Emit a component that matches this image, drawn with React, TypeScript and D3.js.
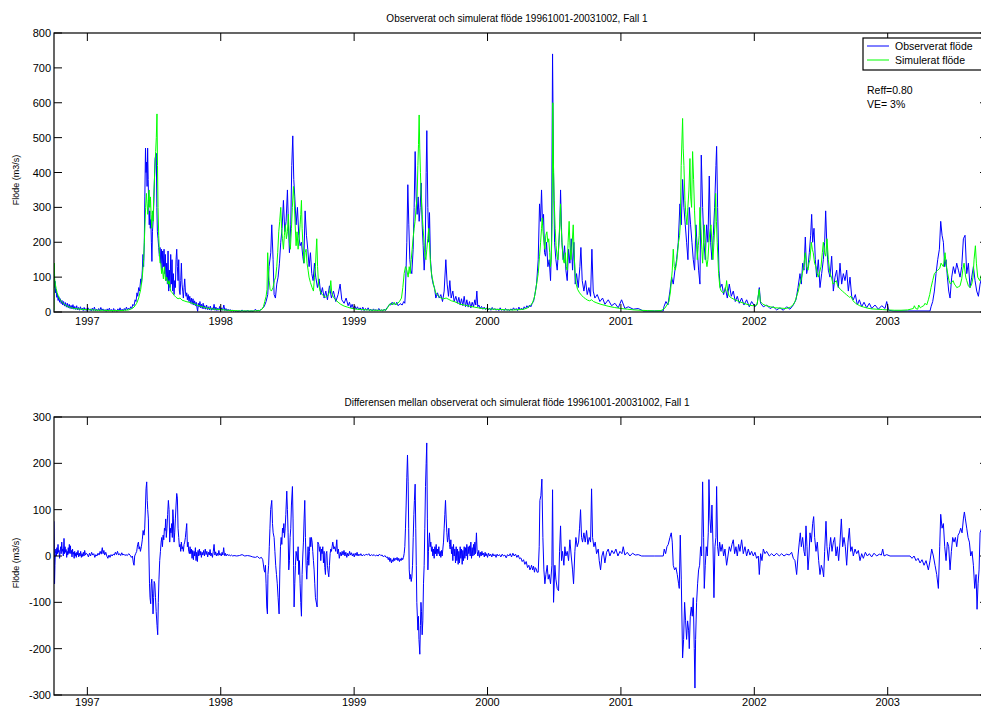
import React from 'react';
import * as d3 from 'd3';

// Time axis is in decimal years (hydrological period 1996-10-01 .. 2003-10-02)
const startYear = 1996.75;
const endYear = 2003.752;
const yearTicks = [1997, 1998, 1999, 2000, 2001, 2002, 2003];
const flowTicks = [0, 100, 200, 300, 400, 500, 600, 700, 800];
const diffTicks = [-300, -200, -100, 0, 100, 200, 300];

const topTitle = 'Observerat och simulerat flöde 19961001-20031002, Fall 1';
const bottomTitle = 'Differensen mellan observerat och simulerat flöde 19961001-20031002, Fall 1';
const yLabel = 'Flöde (m3/s)';
const legendItems = [
  { label: 'Observerat flöde', color: '#0000ff' },
  { label: 'Simulerat flöde', color: '#00ff00' },
];
const statsLines = ['Reff=0.80', 'VE= 3%'];

// Observed discharge, m3/s
const observed: [number, number][] = [
  [1996.750, 95], [1996.752, 122], [1996.755, 70], [1996.758, 88], [1996.762, 55], [1996.766, 64], [1996.771, 42], [1996.776, 52],
  [1996.781, 33], [1996.786, 44], [1996.792, 28], [1996.798, 38], [1996.804, 24], [1996.810, 33], [1996.816, 20], [1996.822, 30],
  [1996.829, 17], [1996.836, 27], [1996.843, 14], [1996.850, 25], [1996.857, 12], [1996.864, 22], [1996.871, 10], [1996.878, 19],
  [1996.885, 9], [1996.892, 21], [1996.899, 8], [1996.906, 16], [1996.913, 7], [1996.920, 18], [1996.927, 6], [1996.934, 13],
  [1996.941, 5], [1996.948, 15], [1996.955, 6], [1996.962, 11], [1996.969, 4], [1996.976, 13], [1996.983, 5], [1996.990, 10],
  [1996.997, 4], [1997.005, 12], [1997.013, 5], [1997.021, 9], [1997.029, 3], [1997.037, 11], [1997.045, 4], [1997.053, 14],
  [1997.061, 3], [1997.069, 8], [1997.077, 4], [1997.085, 10], [1997.093, 3], [1997.101, 13], [1997.109, 5], [1997.117, 9],
  [1997.125, 3], [1997.133, 7], [1997.141, 2], [1997.149, 9], [1997.157, 3], [1997.165, 11], [1997.173, 4], [1997.181, 7],
  [1997.189, 2], [1997.197, 10], [1997.205, 3], [1997.213, 6], [1997.221, 2], [1997.229, 9], [1997.237, 3], [1997.245, 12],
  [1997.253, 4], [1997.261, 8], [1997.269, 3], [1997.277, 10], [1997.285, 5], [1997.293, 14], [1997.301, 6], [1997.309, 11],
  [1997.317, 7], [1997.325, 15], [1997.333, 10], [1997.341, 22], [1997.350, 18], [1997.358, 35], [1997.365, 30], [1997.372, 55],
  [1997.378, 45], [1997.385, 70], [1997.392, 60], [1997.400, 95], [1997.406, 80], [1997.412, 120], [1997.417, 165], [1997.422, 130],
  [1997.427, 200], [1997.431, 330], [1997.436, 470], [1997.440, 400], [1997.444, 430], [1997.448, 360], [1997.452, 470], [1997.456, 380],
  [1997.460, 300], [1997.464, 250], [1997.468, 290], [1997.472, 240], [1997.476, 265], [1997.480, 200], [1997.484, 145], [1997.488, 230],
  [1997.493, 260], [1997.498, 310], [1997.503, 380], [1997.508, 440], [1997.517, 455], [1997.521, 300], [1997.525, 230], [1997.530, 210],
  [1997.535, 185], [1997.540, 160], [1997.545, 185], [1997.550, 140], [1997.555, 180], [1997.560, 120], [1997.565, 175], [1997.570, 130],
  [1997.575, 180], [1997.580, 110], [1997.585, 165], [1997.590, 90], [1997.595, 140], [1997.600, 80], [1997.605, 175], [1997.610, 60],
  [1997.615, 120], [1997.620, 70], [1997.625, 165], [1997.630, 80], [1997.635, 150], [1997.640, 60], [1997.645, 110], [1997.650, 50],
  [1997.655, 90], [1997.660, 70], [1997.665, 150], [1997.670, 180], [1997.675, 130], [1997.680, 90], [1997.685, 150], [1997.690, 60],
  [1997.695, 50], [1997.700, 90], [1997.705, 140], [1997.710, 80], [1997.715, 60], [1997.720, 40], [1997.725, 70], [1997.730, 95],
  [1997.735, 60], [1997.740, 45], [1997.745, 55], [1997.750, 35], [1997.756, 50], [1997.762, 30], [1997.768, 45], [1997.774, 25],
  [1997.780, 40], [1997.786, 22], [1997.792, 38], [1997.798, 20], [1997.804, 32], [1997.810, 18], [1997.816, 28], [1997.822, 12],
  [1997.827, 2], [1997.832, 25], [1997.838, 14], [1997.844, 30], [1997.850, 12], [1997.856, 22], [1997.862, 10], [1997.868, 25],
  [1997.874, 9], [1997.880, 18], [1997.887, 8], [1997.894, 20], [1997.901, 7], [1997.908, 15], [1997.915, 6], [1997.922, 17],
  [1997.929, 5], [1997.936, 12], [1997.943, 6], [1997.950, 22], [1997.957, 5], [1997.964, 14], [1997.971, 4], [1997.978, 11],
  [1997.985, 5], [1997.992, 16], [1997.999, 4], [1998.007, 12], [1998.015, 5], [1998.023, 20], [1998.031, 4], [1998.039, 10],
  [1998.047, 3], [1998.055, 8], [1998.063, 3], [1998.071, 7], [1998.079, 2], [1998.087, 6], [1998.095, 2], [1998.103, 4],
  [1998.111, 2], [1998.119, 3], [1998.127, 2], [1998.140, 3], [1998.150, 2], [1998.160, 6], [1998.170, 2], [1998.180, 3],
  [1998.190, 2], [1998.200, 4], [1998.215, 2], [1998.230, 3], [1998.245, 2], [1998.260, 8], [1998.270, 3], [1998.280, 5],
  [1998.290, 3], [1998.300, 6], [1998.310, 10], [1998.325, 15], [1998.340, 30], [1998.3525, 50], [1998.3625, 130], [1998.375, 170],
  [1998.3825, 250], [1998.3925, 150], [1998.400, 50], [1998.410, 40], [1998.420, 80], [1998.430, 100], [1998.440, 140], [1998.450, 200],
  [1998.460, 240], [1998.470, 320], [1998.480, 230], [1998.490, 260], [1998.500, 350], [1998.5075, 250], [1998.515, 170], [1998.525, 250],
  [1998.5325, 420], [1998.540, 505], [1998.5475, 380], [1998.555, 330], [1998.565, 250], [1998.575, 300], [1998.585, 220], [1998.595, 190],
  [1998.605, 200], [1998.615, 160], [1998.6225, 140], [1998.6325, 290], [1998.6425, 220], [1998.6525, 180], [1998.6625, 130], [1998.6725, 170],
  [1998.6825, 110], [1998.6925, 90], [1998.7025, 140], [1998.7125, 100], [1998.725, 70], [1998.7375, 95], [1998.750, 50], [1998.7625, 70],
  [1998.775, 40], [1998.7875, 60], [1998.800, 35], [1998.815, 75], [1998.830, 40], [1998.845, 60], [1998.8625, 30], [1998.880, 50],
  [1998.895, 80], [1998.9075, 35], [1998.925, 25], [1998.940, 40], [1998.955, 18], [1998.965, 28], [1998.975, 12], [1998.985, 22],
  [1998.995, 9], [1999.005, 18], [1999.015, 8], [1999.025, 15], [1999.035, 6], [1999.045, 12], [1999.055, 5], [1999.065, 14],
  [1999.075, 4], [1999.085, 10], [1999.095, 5], [1999.105, 12], [1999.115, 4], [1999.125, 8], [1999.135, 3], [1999.145, 9],
  [1999.155, 4], [1999.165, 7], [1999.175, 3], [1999.185, 10], [1999.195, 4], [1999.205, 6], [1999.215, 3], [1999.225, 8],
  [1999.235, 4], [1999.245, 12], [1999.255, 15], [1999.265, 22], [1999.275, 20], [1999.285, 28], [1999.295, 22], [1999.300, 25],
  [1999.310, 20], [1999.320, 28], [1999.330, 18], [1999.345, 24], [1999.360, 20], [1999.372, 30], [1999.380, 25], [1999.385, 60],
  [1999.395, 200], [1999.4025, 365], [1999.410, 250], [1999.4175, 150], [1999.425, 120], [1999.4325, 110], [1999.4425, 180], [1999.450, 300],
  [1999.4575, 460], [1999.465, 330], [1999.4725, 280], [1999.480, 330], [1999.4875, 260], [1999.495, 300], [1999.5025, 370], [1999.510, 250],
  [1999.5175, 190], [1999.525, 120], [1999.5325, 170], [1999.540, 400], [1999.545, 520], [1999.5525, 300], [1999.560, 200], [1999.565, 285],
  [1999.5725, 150], [1999.5825, 100], [1999.5925, 80], [1999.6025, 70], [1999.6125, 40], [1999.625, 55], [1999.6375, 40], [1999.650, 50],
  [1999.6625, 30], [1999.675, 60], [1999.6875, 150], [1999.6975, 80], [1999.7075, 45], [1999.7175, 90], [1999.7275, 40], [1999.740, 60],
  [1999.750, 30], [1999.7625, 45], [1999.775, 25], [1999.785, 42], [1999.795, 20], [1999.805, 38], [1999.815, 18], [1999.825, 45],
  [1999.835, 15], [1999.845, 35], [1999.855, 14], [1999.865, 30], [1999.875, 12], [1999.885, 28], [1999.895, 15], [1999.905, 35],
  [1999.912, 20], [1999.920, 60], [1999.927, 15], [1999.935, 20], [1999.945, 10], [1999.955, 16], [1999.965, 8], [1999.975, 14],
  [1999.985, 7], [1999.995, 12], [2000.005, 6], [2000.015, 11], [2000.025, 5], [2000.035, 13], [2000.045, 6], [2000.055, 10],
  [2000.065, 5], [2000.075, 9], [2000.085, 4], [2000.095, 12], [2000.105, 5], [2000.115, 8], [2000.125, 4], [2000.135, 10],
  [2000.145, 5], [2000.155, 7], [2000.165, 4], [2000.175, 9], [2000.185, 5], [2000.195, 12], [2000.205, 6], [2000.215, 10],
  [2000.225, 4], [2000.235, 14], [2000.245, 7], [2000.255, 11], [2000.265, 6], [2000.275, 15], [2000.285, 9], [2000.295, 18],
  [2000.305, 12], [2000.315, 20], [2000.325, 15], [2000.335, 25], [2000.345, 30], [2000.355, 50], [2000.3675, 80], [2000.380, 150],
  [2000.390, 310], [2000.3975, 260], [2000.405, 350], [2000.4125, 250], [2000.420, 280], [2000.4275, 170], [2000.435, 160], [2000.4425, 200],
  [2000.4525, 130], [2000.4625, 150], [2000.4725, 90], [2000.480, 200], [2000.4875, 740], [2000.495, 400], [2000.5025, 200], [2000.5125, 150],
  [2000.5225, 120], [2000.5325, 180], [2000.5425, 250], [2000.5475, 350], [2000.5575, 200], [2000.5675, 150], [2000.5775, 190], [2000.5875, 120],
  [2000.5975, 90], [2000.6075, 180], [2000.6175, 140], [2000.6275, 210], [2000.6375, 120], [2000.6475, 200], [2000.6575, 80], [2000.6675, 110],
  [2000.680, 70], [2000.6925, 130], [2000.700, 185], [2000.710, 90], [2000.7225, 60], [2000.735, 90], [2000.7475, 50], [2000.760, 70],
  [2000.7725, 45], [2000.7825, 180], [2000.7925, 60], [2000.805, 40], [2000.8225, 50], [2000.8425, 30], [2000.8625, 40], [2000.880, 22],
  [2000.905, 35], [2000.930, 18], [2000.955, 25], [2000.980, 12], [2001.005, 35], [2001.030, 10], [2001.055, 15], [2001.0925, 8],
  [2001.130, 10], [2001.1675, 3], [2001.250, 3], [2001.3175, 3], [2001.3225, 15], [2001.3375, 30], [2001.3525, 20], [2001.3675, 60],
  [2001.380, 100], [2001.3925, 80], [2001.405, 120], [2001.4175, 150], [2001.430, 200], [2001.4425, 310], [2001.4525, 250], [2001.4625, 380],
  [2001.4725, 300], [2001.4825, 250], [2001.4925, 200], [2001.5025, 150], [2001.5125, 300], [2001.5225, 250], [2001.5325, 200], [2001.5425, 150],
  [2001.5525, 120], [2001.5625, 250], [2001.5725, 180], [2001.5825, 120], [2001.5925, 80], [2001.6025, 450], [2001.6125, 300], [2001.6225, 200],
  [2001.6325, 150], [2001.6425, 250], [2001.6525, 200], [2001.6625, 390], [2001.6725, 200], [2001.6825, 150], [2001.6925, 220], [2001.7025, 300],
  [2001.7125, 420], [2001.7175, 475], [2001.725, 300], [2001.735, 120], [2001.745, 70], [2001.7575, 80], [2001.770, 50], [2001.7825, 70],
  [2001.7975, 40], [2001.8125, 80], [2001.8275, 45], [2001.8425, 60], [2001.8575, 30], [2001.8725, 45], [2001.8875, 25], [2001.905, 40],
  [2001.9225, 20], [2001.9425, 35], [2001.9625, 15], [2001.980, 30], [2002.005, 15], [2002.0225, 25], [2002.0375, 70], [2002.0475, 25],
  [2002.0675, 15], [2002.0925, 20], [2002.1175, 10], [2002.1425, 15], [2002.1675, 6], [2002.1925, 12], [2002.2175, 5], [2002.2425, 15],
  [2002.2675, 8], [2002.2925, 20], [2002.3125, 35], [2002.3275, 70], [2002.3425, 110], [2002.3525, 80], [2002.3625, 140], [2002.3725, 120],
  [2002.3825, 215], [2002.3925, 110], [2002.4025, 130], [2002.4125, 170], [2002.4225, 220], [2002.430, 280], [2002.4375, 200], [2002.4475, 240],
  [2002.4575, 150], [2002.4675, 100], [2002.480, 150], [2002.4925, 70], [2002.505, 110], [2002.5175, 150], [2002.5275, 200], [2002.535, 290],
  [2002.545, 180], [2002.555, 120], [2002.5675, 100], [2002.580, 160], [2002.5925, 60], [2002.605, 100], [2002.6175, 120], [2002.630, 70],
  [2002.6425, 140], [2002.655, 80], [2002.6675, 110], [2002.680, 90], [2002.6925, 120], [2002.705, 60], [2002.7175, 100], [2002.730, 45],
  [2002.7425, 35], [2002.7575, 50], [2002.7725, 20], [2002.7875, 35], [2002.805, 15], [2002.8225, 28], [2002.8425, 12], [2002.8625, 25],
  [2002.880, 10], [2002.905, 20], [2002.930, 8], [2002.955, 18], [2002.980, 10], [2002.9925, 30], [2003.0075, 5], [2003.0425, 3],
  [2003.150, 3], [2003.3175, 3], [2003.325, 15], [2003.3375, 30], [2003.350, 60], [2003.3625, 110], [2003.375, 150], [2003.3875, 180],
  [2003.3975, 260], [2003.4075, 220], [2003.4175, 200], [2003.4275, 130], [2003.4375, 150], [2003.4475, 100], [2003.4575, 60], [2003.4675, 40],
  [2003.480, 100], [2003.4925, 130], [2003.505, 110], [2003.5175, 140], [2003.530, 120], [2003.5425, 100], [2003.555, 130], [2003.5675, 210],
  [2003.580, 220], [2003.5925, 110], [2003.605, 140], [2003.6175, 70], [2003.630, 100], [2003.6425, 130], [2003.655, 90], [2003.6675, 60],
  [2003.680, 45], [2003.6925, 80], [2003.705, 100], [2003.720, 70], [2003.735, 90], [2003.750, 110],
];

// Simulated discharge, m3/s
const simulated: [number, number][] = [
  [1996.750, 5], [1996.752, 140], [1996.755, 95], [1996.760, 80], [1996.766, 68], [1996.773, 56], [1996.780, 48], [1996.788, 41],
  [1996.797, 35], [1996.807, 30], [1996.818, 25], [1996.830, 21], [1996.843, 18], [1996.857, 15], [1996.872, 13], [1996.888, 11],
  [1996.905, 10], [1996.925, 9], [1996.950, 8], [1996.975, 7], [1997.000, 7], [1997.040, 6], [1997.080, 5], [1997.120, 5],
  [1997.160, 4], [1997.200, 4], [1997.240, 4], [1997.280, 5], [1997.310, 6], [1997.330, 9], [1997.350, 14], [1997.370, 25],
  [1997.385, 40], [1997.400, 65], [1997.412, 100], [1997.422, 150], [1997.430, 230], [1997.437, 300], [1997.443, 340], [1997.448, 310],
  [1997.453, 280], [1997.458, 320], [1997.463, 350], [1997.468, 300], [1997.473, 330], [1997.478, 280], [1997.483, 240], [1997.488, 290],
  [1997.493, 260], [1997.498, 330], [1997.505, 400], [1997.512, 460], [1997.517, 500], [1997.522, 568], [1997.526, 420], [1997.530, 300],
  [1997.535, 220], [1997.540, 170], [1997.545, 140], [1997.550, 140], [1997.557, 110], [1997.563, 125], [1997.570, 95], [1997.578, 130],
  [1997.586, 90], [1997.595, 100], [1997.605, 80], [1997.613, 90], [1997.625, 60], [1997.637, 55], [1997.650, 48], [1997.665, 42],
  [1997.680, 38], [1997.695, 40], [1997.710, 34], [1997.725, 32], [1997.740, 30], [1997.760, 28], [1997.780, 26], [1997.800, 23],
  [1997.820, 20], [1997.845, 17], [1997.870, 14], [1997.900, 11], [1997.930, 9], [1997.960, 8], [1998.000, 7], [1998.050, 5],
  [1998.100, 4], [1998.150, 3], [1998.200, 3], [1998.250, 3], [1998.290, 4], [1998.310, 8], [1998.320, 15], [1998.330, 30],
  [1998.340, 45], [1998.347, 65], [1998.352, 170], [1998.357, 120], [1998.363, 90], [1998.370, 65], [1998.380, 60], [1998.392, 70],
  [1998.402, 90], [1998.412, 100], [1998.420, 130], [1998.427, 170], [1998.435, 230], [1998.442, 260], [1998.450, 300], [1998.456, 240],
  [1998.463, 210], [1998.470, 180], [1998.477, 220], [1998.485, 250], [1998.492, 210], [1998.500, 230], [1998.507, 280], [1998.515, 200],
  [1998.522, 180], [1998.530, 240], [1998.537, 300], [1998.545, 360], [1998.551, 320], [1998.558, 250], [1998.565, 190], [1998.572, 230],
  [1998.580, 180], [1998.587, 210], [1998.595, 250], [1998.600, 280], [1998.605, 320], [1998.610, 240], [1998.617, 190], [1998.625, 140],
  [1998.632, 170], [1998.640, 180], [1998.647, 140], [1998.655, 120], [1998.662, 100], [1998.672, 85], [1998.685, 70], [1998.695, 60],
  [1998.703, 100], [1998.710, 130], [1998.715, 175], [1998.720, 210], [1998.726, 130], [1998.733, 80], [1998.745, 60], [1998.760, 50],
  [1998.775, 45], [1998.790, 42], [1998.805, 48], [1998.818, 60], [1998.825, 90], [1998.832, 55], [1998.845, 42], [1998.860, 35],
  [1998.880, 28], [1998.900, 22], [1998.925, 17], [1998.950, 14], [1998.975, 11], [1999.000, 9], [1999.050, 7], [1999.100, 6],
  [1999.150, 5], [1999.200, 5], [1999.240, 6], [1999.255, 15], [1999.265, 22], [1999.275, 25], [1999.285, 20], [1999.300, 28],
  [1999.312, 20], [1999.325, 25], [1999.340, 30], [1999.355, 40], [1999.365, 70], [1999.375, 110], [1999.385, 130], [1999.395, 120],
  [1999.405, 100], [1999.413, 130], [1999.420, 110], [1999.428, 150], [1999.435, 180], [1999.442, 210], [1999.450, 240], [1999.457, 260],
  [1999.465, 300], [1999.472, 330], [1999.478, 420], [1999.4825, 480], [1999.4875, 565], [1999.492, 470], [1999.497, 400], [1999.503, 330],
  [1999.510, 280], [1999.517, 240], [1999.524, 200], [1999.531, 160], [1999.538, 150], [1999.545, 180], [1999.552, 210], [1999.559, 240],
  [1999.565, 200], [1999.572, 140], [1999.580, 110], [1999.590, 90], [1999.600, 70], [1999.612, 55], [1999.625, 48], [1999.640, 42],
  [1999.655, 40], [1999.670, 38], [1999.690, 40], [1999.710, 36], [1999.730, 32], [1999.750, 30], [1999.775, 26], [1999.800, 22],
  [1999.825, 20], [1999.850, 18], [1999.875, 16], [1999.900, 14], [1999.930, 12], [1999.960, 10], [2000.000, 9], [2000.050, 8],
  [2000.100, 7], [2000.150, 6], [2000.200, 6], [2000.250, 7], [2000.280, 9], [2000.300, 12], [2000.320, 18], [2000.335, 25],
  [2000.350, 40], [2000.360, 60], [2000.370, 85], [2000.380, 110], [2000.390, 160], [2000.398, 200], [2000.405, 240], [2000.410, 270],
  [2000.416, 230], [2000.423, 200], [2000.430, 180], [2000.437, 220], [2000.445, 230], [2000.452, 200], [2000.459, 210], [2000.466, 170],
  [2000.472, 130], [2000.478, 150], [2000.484, 250], [2000.4895, 600], [2000.494, 430], [2000.500, 320], [2000.507, 240], [2000.514, 190],
  [2000.521, 160], [2000.528, 150], [2000.535, 200], [2000.542, 260], [2000.5475, 310], [2000.553, 240], [2000.560, 190], [2000.567, 150],
  [2000.575, 140], [2000.583, 170], [2000.590, 130], [2000.597, 120], [2000.604, 200], [2000.612, 260], [2000.618, 190], [2000.625, 150],
  [2000.632, 180], [2000.6425, 250], [2000.650, 160], [2000.657, 110], [2000.665, 80], [2000.675, 65], [2000.690, 55], [2000.705, 48],
  [2000.720, 42], [2000.735, 38], [2000.750, 34], [2000.765, 32], [2000.780, 35], [2000.795, 30], [2000.820, 26], [2000.850, 22],
  [2000.880, 19], [2000.910, 16], [2000.950, 13], [2001.000, 10], [2001.050, 8], [2001.100, 6], [2001.150, 5], [2001.200, 4],
  [2001.250, 3], [2001.300, 4], [2001.3275, 10], [2001.345, 20], [2001.360, 30], [2001.372, 60], [2001.385, 120], [2001.3925, 180],
  [2001.400, 130], [2001.408, 120], [2001.417, 140], [2001.425, 170], [2001.432, 200], [2001.440, 220], [2001.445, 250], [2001.452, 420],
  [2001.4625, 555], [2001.467, 470], [2001.4725, 420], [2001.480, 320], [2001.487, 280], [2001.495, 250], [2001.502, 300], [2001.510, 350],
  [2001.5175, 440], [2001.523, 330], [2001.530, 300], [2001.5375, 460], [2001.545, 380], [2001.552, 290], [2001.560, 220], [2001.567, 200],
  [2001.5725, 150], [2001.580, 190], [2001.587, 220], [2001.5925, 300], [2001.600, 240], [2001.607, 180], [2001.6125, 140], [2001.620, 200],
  [2001.625, 250], [2001.632, 200], [2001.6375, 150], [2001.645, 130], [2001.652, 150], [2001.660, 200], [2001.667, 230], [2001.675, 250],
  [2001.682, 200], [2001.690, 150], [2001.6975, 200], [2001.705, 250], [2001.710, 340], [2001.716, 260], [2001.722, 200], [2001.7325, 110],
  [2001.742, 70], [2001.752, 60], [2001.765, 55], [2001.780, 60], [2001.790, 80], [2001.7925, 90], [2001.800, 60], [2001.812, 45],
  [2001.830, 40], [2001.850, 36], [2001.875, 32], [2001.900, 28], [2001.930, 24], [2001.960, 20], [2001.990, 18], [2002.020, 20],
  [2002.037, 65], [2002.045, 30], [2002.065, 22], [2002.090, 18], [2002.120, 15], [2002.160, 12], [2002.200, 11], [2002.240, 10],
  [2002.270, 14], [2002.290, 20], [2002.305, 30], [2002.3175, 45], [2002.330, 60], [2002.340, 80], [2002.350, 90], [2002.360, 110],
  [2002.370, 130], [2002.3825, 170], [2002.392, 130], [2002.402, 120], [2002.410, 140], [2002.417, 150], [2002.4275, 200], [2002.435, 180],
  [2002.442, 170], [2002.452, 140], [2002.462, 130], [2002.472, 110], [2002.480, 100], [2002.490, 115], [2002.500, 130], [2002.510, 170],
  [2002.5175, 200], [2002.527, 170], [2002.535, 160], [2002.545, 210], [2002.555, 150], [2002.5675, 110], [2002.578, 100], [2002.590, 80],
  [2002.603, 85], [2002.615, 90], [2002.625, 75], [2002.635, 70], [2002.645, 65], [2002.660, 60], [2002.675, 55], [2002.690, 50],
  [2002.705, 45], [2002.715, 42], [2002.725, 45], [2002.740, 32], [2002.760, 25], [2002.790, 18], [2002.820, 14], [2002.850, 11],
  [2002.880, 9], [2002.920, 8], [2002.960, 7], [2003.000, 6], [2003.050, 5], [2003.100, 5], [2003.150, 6], [2003.1925, 10],
  [2003.200, 18], [2003.210, 10], [2003.225, 8], [2003.2325, 20], [2003.245, 12], [2003.255, 15], [2003.270, 18], [2003.280, 25],
  [2003.2925, 20], [2003.305, 35], [2003.315, 50], [2003.325, 70], [2003.337, 90], [2003.350, 110], [2003.362, 115], [2003.375, 120],
  [2003.390, 125], [2003.400, 140], [2003.4175, 130], [2003.430, 170], [2003.440, 130], [2003.450, 110], [2003.460, 90], [2003.470, 80],
  [2003.480, 85], [2003.490, 90], [2003.500, 80], [2003.510, 75], [2003.5175, 70], [2003.530, 72], [2003.5425, 75], [2003.555, 95],
  [2003.5625, 120], [2003.5725, 140], [2003.585, 100], [2003.5925, 90], [2003.605, 75], [2003.6175, 70], [2003.630, 80], [2003.640, 100],
  [2003.6475, 150], [2003.6575, 190], [2003.665, 140], [2003.675, 100], [2003.690, 90], [2003.705, 110], [2003.720, 120], [2003.735, 100],
  [2003.750, 115],
];

// Observed minus simulated, m3/s
const difference: [number, number][] = [
  [1996.750, 75], [1996.752, 30], [1996.754, -60], [1996.757, -20], [1996.760, 5], [1996.764, 15], [1996.768, 0], [1996.772, 18],
  [1996.776, 5], [1996.780, 25], [1996.784, 8], [1996.788, 12], [1996.792, -5], [1996.796, 10], [1996.800, 20], [1996.804, 5],
  [1996.808, 30], [1996.812, 10], [1996.816, 15], [1996.820, 0], [1996.825, 38], [1996.829, 5], [1996.833, 20], [1996.837, 8],
  [1996.841, 14], [1996.845, -3], [1996.849, 10], [1996.853, 2], [1996.857, 18], [1996.861, 5], [1996.865, 25], [1996.869, 6],
  [1996.873, 22], [1996.877, 5], [1996.881, 12], [1996.885, -2], [1996.889, 15], [1996.893, 4], [1996.897, 8], [1996.901, -5],
  [1996.905, 10], [1996.909, 0], [1996.913, 6], [1996.917, -3], [1996.921, 8], [1996.925, 2], [1996.930, 12], [1996.935, -2],
  [1996.940, 6], [1996.945, 0], [1996.950, 10], [1996.955, -3], [1996.960, 5], [1996.965, -1], [1996.970, 8], [1996.975, 0],
  [1996.980, 12], [1996.986, 2], [1996.992, 6], [1997.000, 4], [1997.008, -2], [1997.016, 6], [1997.024, 0], [1997.032, 8],
  [1997.040, 2], [1997.048, 5], [1997.056, -3], [1997.064, 3], [1997.072, 0], [1997.080, 6], [1997.088, 2], [1997.096, 10],
  [1997.104, 4], [1997.112, 18], [1997.118, 5], [1997.124, 12], [1997.130, 2], [1997.138, 8], [1997.146, 0], [1997.154, -5],
  [1997.162, 2], [1997.170, -3], [1997.178, 3], [1997.186, 0], [1997.194, 4], [1997.202, 2], [1997.210, 8], [1997.218, 3],
  [1997.226, 10], [1997.234, 2], [1997.242, 5], [1997.250, 1], [1997.258, 7], [1997.266, 2], [1997.274, 4], [1997.282, 1],
  [1997.290, 3], [1997.300, 1], [1997.310, 5], [1997.320, 2], [1997.330, -3], [1997.338, 0], [1997.345, -15], [1997.350, -20],
  [1997.355, 0], [1997.362, 5], [1997.370, 10], [1997.377, 25], [1997.383, 30], [1997.388, 15], [1997.393, 20], [1997.398, 10],
  [1997.405, 20], [1997.412, 35], [1997.418, 55], [1997.425, 45], [1997.430, 60], [1997.436, 110], [1997.440, 145], [1997.445, 160],
  [1997.449, 120], [1997.4525, 100], [1997.4575, 80], [1997.462, 0], [1997.466, -60], [1997.470, -90], [1997.475, -103], [1997.479, -60],
  [1997.483, -50], [1997.488, -80], [1997.4925, -125], [1997.497, -90], [1997.501, -55], [1997.506, -60], [1997.511, -90], [1997.516, -120],
  [1997.5225, -150], [1997.5275, -170], [1997.532, -100], [1997.537, -50], [1997.5425, -10], [1997.548, 10], [1997.553, 30], [1997.558, 40],
  [1997.563, 20], [1997.568, 45], [1997.573, 35], [1997.578, 60], [1997.583, 55], [1997.5875, 80], [1997.592, 40], [1997.597, 60],
  [1997.602, 90], [1997.6075, 120], [1997.6125, 100], [1997.6175, 30], [1997.622, 60], [1997.627, 50], [1997.632, 70], [1997.637, 40],
  [1997.641, 100], [1997.645, 80], [1997.650, 30], [1997.655, 50], [1997.660, 80], [1997.665, 110], [1997.670, 135], [1997.675, 125],
  [1997.680, 60], [1997.685, 40], [1997.690, 20], [1997.695, 25], [1997.700, 10], [1997.705, 30], [1997.710, 15], [1997.715, 20],
  [1997.720, 10], [1997.725, 25], [1997.730, 30], [1997.735, 40], [1997.740, 55], [1997.745, 70], [1997.750, 20], [1997.755, 30],
  [1997.760, 10], [1997.765, 5], [1997.770, 20], [1997.775, 5], [1997.780, 15], [1997.785, -5], [1997.790, 12], [1997.795, -8],
  [1997.800, 10], [1997.805, 0], [1997.810, 18], [1997.815, -10], [1997.820, 8], [1997.825, -12], [1997.830, 12], [1997.835, 0],
  [1997.840, 15], [1997.845, 2], [1997.850, 10], [1997.855, -3], [1997.860, 8], [1997.866, 2], [1997.872, 12], [1997.878, 0],
  [1997.884, 15], [1997.890, 3], [1997.896, 10], [1997.902, -2], [1997.908, 8], [1997.914, 2], [1997.920, 14], [1997.926, 0],
  [1997.932, 6], [1997.938, -3], [1997.944, 10], [1997.950, 25], [1997.956, 2], [1997.962, 9], [1997.968, 0], [1997.974, 6],
  [1997.980, 1], [1997.986, 12], [1997.992, 2], [1997.998, 5], [1998.004, 0], [1998.010, 8], [1998.016, 2], [1998.022, 18],
  [1998.028, 1], [1998.034, 6], [1998.040, 0], [1998.048, 4], [1998.056, 1], [1998.064, 3], [1998.072, 0], [1998.080, 2],
  [1998.090, 0], [1998.100, 1], [1998.120, 0], [1998.140, 1], [1998.160, 3], [1998.180, 0], [1998.200, 1], [1998.220, 0],
  [1998.240, -2], [1998.260, -3], [1998.275, -1], [1998.290, -5], [1998.305, -3], [1998.315, -8], [1998.325, -30], [1998.330, -35],
  [1998.335, -20], [1998.340, -60], [1998.345, -110], [1998.350, -125], [1998.354, -40], [1998.359, -20], [1998.364, 20], [1998.369, 60],
  [1998.374, 100], [1998.3825, 120], [1998.388, 70], [1998.393, 50], [1998.400, 40], [1998.406, 10], [1998.412, -20], [1998.418, -40],
  [1998.424, -60], [1998.430, -90], [1998.4375, -125], [1998.443, -30], [1998.448, 20], [1998.453, 40], [1998.458, 25], [1998.463, 60],
  [1998.468, 50], [1998.473, 70], [1998.478, 40], [1998.483, 60], [1998.488, 90], [1998.495, 140], [1998.500, 100], [1998.505, 50],
  [1998.510, -30], [1998.515, -10], [1998.520, 40], [1998.525, 60], [1998.530, 110], [1998.5375, 150], [1998.542, 80], [1998.546, -20],
  [1998.550, -110], [1998.555, -60], [1998.560, -20], [1998.565, 10], [1998.570, 0], [1998.575, -10], [1998.580, 20], [1998.585, -40],
  [1998.590, -10], [1998.595, -60], [1998.600, -100], [1998.605, -130], [1998.610, -40], [1998.615, 0], [1998.620, 30], [1998.625, 80],
  [1998.630, 120], [1998.635, 40], [1998.640, -20], [1998.645, -50], [1998.650, -10], [1998.655, 20], [1998.660, -20], [1998.665, 10],
  [1998.670, 40], [1998.675, 20], [1998.680, 40], [1998.685, 30], [1998.690, 10], [1998.695, -10], [1998.700, -30], [1998.705, -60],
  [1998.710, -90], [1998.7225, -110], [1998.728, 30], [1998.735, 25], [1998.740, 10], [1998.745, 20], [1998.750, -10], [1998.755, 15],
  [1998.760, 5], [1998.765, 20], [1998.770, -15], [1998.775, 10], [1998.780, -25], [1998.785, -40], [1998.790, 5], [1998.795, 10],
  [1998.800, -20], [1998.805, -35], [1998.810, -45], [1998.815, -20], [1998.820, 5], [1998.825, 15], [1998.830, 10], [1998.835, 20],
  [1998.840, 30], [1998.848, 15], [1998.855, 20], [1998.862, 10], [1998.870, 35], [1998.875, 5], [1998.882, 15], [1998.889, -5],
  [1998.896, 8], [1998.903, 0], [1998.910, 10], [1998.917, 2], [1998.924, 12], [1998.931, 0], [1998.938, 8], [1998.945, -3],
  [1998.952, 6], [1998.959, 0], [1998.966, 10], [1998.973, 2], [1998.980, 7], [1998.987, 0], [1998.994, 5], [1999.001, -2],
  [1999.008, 6], [1999.015, 1], [1999.022, 8], [1999.029, 0], [1999.036, 4], [1999.043, 1], [1999.050, 5], [1999.060, 0],
  [1999.070, 3], [1999.080, 1], [1999.090, 4], [1999.100, 2], [1999.110, 5], [1999.120, 0], [1999.130, 3], [1999.140, 1],
  [1999.150, 3], [1999.160, 0], [1999.170, 2], [1999.180, 0], [1999.190, 4], [1999.200, 1], [1999.210, 2], [1999.220, -2],
  [1999.230, 1], [1999.240, -3], [1999.250, -2], [1999.256, -8], [1999.262, -3], [1999.268, -12], [1999.274, -5], [1999.280, -15],
  [1999.286, -8], [1999.292, -12], [1999.298, -4], [1999.304, -10], [1999.310, -5], [1999.316, -8], [1999.322, -3], [1999.328, -10],
  [1999.334, -5], [1999.340, -12], [1999.346, -6], [1999.352, -10], [1999.358, -4], [1999.364, -8], [1999.370, -3], [1999.375, 5],
  [1999.380, 20], [1999.385, 60], [1999.390, 110], [1999.395, 170], [1999.400, 218], [1999.405, 160], [1999.409, 60], [1999.413, -30],
  [1999.418, -50], [1999.423, -40], [1999.428, -55], [1999.433, -45], [1999.438, -20], [1999.443, 40], [1999.448, 90], [1999.452, 120],
  [1999.4575, 155], [1999.462, 60], [1999.466, -20], [1999.470, -100], [1999.474, -130], [1999.478, -160], [1999.482, -130], [1999.486, -180],
  [1999.4925, -212], [1999.497, -150], [1999.501, -100], [1999.505, -120], [1999.510, -170], [1999.515, -140], [1999.520, -60], [1999.525, -20],
  [1999.530, 60], [1999.535, 150], [1999.540, 200], [1999.5445, 244], [1999.549, 80], [1999.553, -30], [1999.557, 10], [1999.561, 30],
  [1999.565, 50], [1999.570, 20], [1999.575, 30], [1999.580, 10], [1999.585, 20], [1999.590, 0], [1999.595, 15], [1999.600, -5],
  [1999.605, 20], [1999.610, 5], [1999.615, 25], [1999.620, 0], [1999.625, 15], [1999.630, 5], [1999.635, 20], [1999.640, 0],
  [1999.645, 10], [1999.650, -3], [1999.655, 12], [1999.660, 0], [1999.665, 15], [1999.670, 30], [1999.675, 60], [1999.680, 90],
  [1999.685, 120], [1999.690, 80], [1999.695, 50], [1999.700, 30], [1999.705, 40], [1999.710, 60], [1999.715, 25], [1999.720, 15],
  [1999.725, 35], [1999.730, 5], [1999.735, 20], [1999.740, -10], [1999.745, 25], [1999.750, 0], [1999.755, 15], [1999.760, -15],
  [1999.765, 20], [1999.770, -10], [1999.775, 15], [1999.780, -18], [1999.785, 10], [1999.790, -15], [1999.795, 20], [1999.800, -5],
  [1999.805, 15], [1999.810, -18], [1999.815, 12], [1999.820, -10], [1999.825, 20], [1999.830, -5], [1999.835, 18], [1999.840, 0],
  [1999.845, 25], [1999.850, -8], [1999.855, 20], [1999.860, 5], [1999.865, 22], [1999.870, 0], [1999.875, 30], [1999.880, -5],
  [1999.885, 18], [1999.890, 0], [1999.895, 25], [1999.900, 2], [1999.905, 30], [1999.910, 5], [1999.917, 50], [1999.922, 10],
  [1999.928, 0], [1999.934, 12], [1999.940, -3], [1999.946, 8], [1999.952, 0], [1999.958, 10], [1999.964, 2], [1999.970, 6],
  [1999.976, -2], [1999.982, 8], [1999.988, 0], [1999.994, 5], [2000.000, -3], [2000.008, 6], [2000.016, 0], [2000.024, 4],
  [2000.032, -2], [2000.040, 5], [2000.048, 0], [2000.056, 3], [2000.064, -3], [2000.072, 4], [2000.080, 0], [2000.090, 3],
  [2000.100, -2], [2000.110, 4], [2000.120, 0], [2000.130, 2], [2000.140, -4], [2000.150, 3], [2000.160, 0], [2000.170, 5],
  [2000.180, -2], [2000.190, 6], [2000.200, 0], [2000.210, 4], [2000.220, -3], [2000.230, 2], [2000.240, -6], [2000.250, -4],
  [2000.260, -12], [2000.270, -8], [2000.280, -18], [2000.290, -12], [2000.300, -25], [2000.310, -20], [2000.318, -30], [2000.325, -25],
  [2000.330, -20], [2000.338, -30], [2000.345, -22], [2000.352, -35], [2000.358, -25], [2000.365, -28], [2000.372, -35], [2000.380, -35],
  [2000.3875, 20], [2000.3925, 120], [2000.400, 130], [2000.4075, 166], [2000.415, 40], [2000.4225, -30], [2000.430, -60], [2000.4375, -40],
  [2000.4475, -20], [2000.455, -50], [2000.4625, -40], [2000.4725, -60], [2000.4825, -20], [2000.4875, 143], [2000.495, -100], [2000.505, -20],
  [2000.5125, -50], [2000.5225, -70], [2000.5325, -75], [2000.540, 10], [2000.5475, 65], [2000.555, -10], [2000.5625, 10], [2000.5725, -20],
  [2000.580, 20], [2000.5875, 0], [2000.5975, 10], [2000.6075, -10], [2000.6175, 35], [2000.6275, 0], [2000.6375, -30], [2000.645, -60],
  [2000.655, 10], [2000.6625, 40], [2000.6725, 20], [2000.6825, 30], [2000.690, 60], [2000.6975, 100], [2000.705, 40], [2000.7125, 30],
  [2000.7225, 50], [2000.7325, 30], [2000.7425, 55], [2000.7525, 25], [2000.7625, 40], [2000.7725, 30], [2000.780, 145], [2000.7875, 40],
  [2000.7975, 20], [2000.8075, 30], [2000.8175, 5], [2000.830, 15], [2000.8375, -10], [2000.8475, -30], [2000.8575, 0], [2000.8675, 10],
  [2000.880, -15], [2000.8925, 8], [2000.905, 15], [2000.9175, 0], [2000.9325, 12], [2000.9475, 5], [2000.9625, 15], [2000.9775, 0],
  [2000.9925, 10], [2001.0075, 5], [2001.0175, 20], [2001.030, 2], [2001.0475, 8], [2001.0675, 0], [2001.0875, 6], [2001.1075, 2],
  [2001.130, 3], [2001.155, 0], [2001.180, 0], [2001.250, 0], [2001.3175, 0], [2001.325, 15], [2001.335, 5], [2001.345, 20],
  [2001.355, 25], [2001.3675, 40], [2001.3775, 50], [2001.385, 30], [2001.3925, -20], [2001.4025, -30], [2001.4125, -25], [2001.4225, -40],
  [2001.4325, -60], [2001.4375, -70], [2001.445, 45], [2001.4525, -50], [2001.4625, -220], [2001.470, -180], [2001.4775, -100], [2001.485, -140],
  [2001.4925, -180], [2001.500, -140], [2001.5075, -160], [2001.5125, -200], [2001.520, -130], [2001.5275, -110], [2001.535, -130], [2001.5425, -90],
  [2001.550, -200], [2001.555, -285], [2001.560, -180], [2001.5675, -100], [2001.575, -60], [2001.5825, -30], [2001.590, -20], [2001.5975, 20],
  [2001.605, 0], [2001.6125, 160], [2001.620, 40], [2001.625, -70], [2001.6325, -20], [2001.640, 20], [2001.6475, 0], [2001.655, 50],
  [2001.660, 165], [2001.6675, 80], [2001.675, 50], [2001.6825, 110], [2001.690, 30], [2001.6975, -90], [2001.705, 20], [2001.7125, 40],
  [2001.7175, 150], [2001.725, 20], [2001.7325, 0], [2001.740, 30], [2001.750, 10], [2001.760, 25], [2001.770, 0], [2001.780, 15],
  [2001.7925, -20], [2001.8025, 0], [2001.8125, 20], [2001.8225, 10], [2001.8325, 25], [2001.8425, 35], [2001.8525, 5], [2001.8625, 20],
  [2001.8725, 0], [2001.8825, 25], [2001.8925, 10], [2001.905, 35], [2001.9175, 5], [2001.930, 20], [2001.9425, 0], [2001.955, 15],
  [2001.9675, 2], [2001.980, 10], [2001.9925, 0], [2002.005, 8], [2002.0175, -5], [2002.030, 0], [2002.0375, -40], [2002.0475, 5],
  [2002.0575, -10], [2002.0675, 15], [2002.080, 5], [2002.0925, 10], [2002.1125, 0], [2002.130, 5], [2002.1475, 0], [2002.1675, 6],
  [2002.1875, 0], [2002.205, 5], [2002.2225, 0], [2002.2425, 4], [2002.2625, 2], [2002.280, 8], [2002.2925, -5], [2002.305, -10],
  [2002.3175, -40], [2002.3275, 0], [2002.3375, 30], [2002.345, 50], [2002.3525, 20], [2002.3625, 40], [2002.3725, 10], [2002.380, 0],
  [2002.3875, 65], [2002.395, 20], [2002.4025, -30], [2002.410, 0], [2002.4175, 50], [2002.4275, 30], [2002.4375, 70], [2002.445, 85],
  [2002.4525, 40], [2002.4625, 10], [2002.4725, 30], [2002.4825, -10], [2002.4925, -40], [2002.5025, -20], [2002.5125, -30], [2002.520, -45],
  [2002.5275, 10], [2002.5375, 75], [2002.545, 20], [2002.555, -10], [2002.565, 20], [2002.5725, 40], [2002.5825, 10], [2002.5925, 30],
  [2002.6025, 40], [2002.6125, 0], [2002.6225, 20], [2002.6325, -10], [2002.6425, 30], [2002.6525, 80], [2002.6625, 20], [2002.6725, 40],
  [2002.6825, 20], [2002.6925, -20], [2002.7025, 30], [2002.7125, 60], [2002.7225, 10], [2002.7325, 20], [2002.7425, 0], [2002.755, 15],
  [2002.7675, 5], [2002.780, 12], [2002.7925, -10], [2002.805, 5], [2002.8175, -5], [2002.8325, 8], [2002.8475, 0], [2002.8625, 5],
  [2002.880, -2], [2002.8975, 6], [2002.9175, 0], [2002.9375, 4], [2002.9525, 2], [2002.9625, 15], [2002.9725, 0], [2002.9925, 3],
  [2003.0175, 0], [2003.100, 0], [2003.1675, 0], [2003.1825, -5], [2003.1975, 0], [2003.2125, -10], [2003.2275, -5], [2003.2425, -15],
  [2003.2575, -8], [2003.2725, -20], [2003.2875, -10], [2003.305, -30], [2003.3175, -10], [2003.330, 15], [2003.3425, 0], [2003.355, -20],
  [2003.3675, -40], [2003.380, -70], [2003.390, 20], [2003.3975, 90], [2003.4075, 60], [2003.4175, 70], [2003.4275, 20], [2003.4375, -10],
  [2003.4475, 30], [2003.4575, 20], [2003.4675, -30], [2003.4775, 10], [2003.4875, 40], [2003.4975, 30], [2003.5075, 40], [2003.5175, 20],
  [2003.5275, 45], [2003.5375, 50], [2003.5475, 60], [2003.5575, 50], [2003.5675, 80], [2003.575, 95], [2003.5825, 80], [2003.5925, 60],
  [2003.6025, 40], [2003.6125, 30], [2003.6225, 0], [2003.6325, 10], [2003.6425, -20], [2003.6525, -70], [2003.6625, -40], [2003.670, -115],
  [2003.6775, -60], [2003.685, -30], [2003.6925, 50], [2003.705, 60], [2003.720, 40], [2003.735, 55], [2003.750, 50],
];

const FONT = '"Liberation Sans", Arial, Helvetica, sans-serif';
const LEFT = 54;
const RIGHT = 988;
const TICK = 8;

type Series = { data: [number, number][]; color: string };

interface PanelProps {
  id: string;
  top: number;
  bottom: number;
  domain: [number, number];
  ticks: number[];
  title: string;
  titleY: number;
  labelY: number;
  xLabelOffset: number;
  series: Series[];
}

function Panel({ id, top, bottom, domain, ticks, title, titleY, labelY, xLabelOffset, series }: PanelProps) {
  const x = d3.scaleLinear().domain([startYear, endYear]).range([LEFT, RIGHT]);
  const y = d3.scaleLinear().domain(domain).range([bottom, top]);
  const line = d3
    .line<[number, number]>()
    .x((d) => x(d[0]))
    .y((d) => y(d[1]));

  return (
    <g>
      <defs>
        <clipPath id={`clip-${id}`}>
          <rect x={LEFT} y={top} width={RIGHT - LEFT} height={bottom - top} />
        </clipPath>
      </defs>
      <g clipPath={`url(#clip-${id})`}>
        {series.map((s, i) => (
          <path
            key={i}
            d={line(s.data) ?? ''}
            fill="none"
            stroke={s.color}
            strokeWidth={1}
            strokeLinejoin="round"
          />
        ))}
      </g>
      {/* frame */}
      <rect
        x={LEFT}
        y={top}
        width={RIGHT - LEFT}
        height={bottom - top}
        fill="none"
        stroke="#000"
        strokeWidth={1.2}
      />
      {/* x ticks, top and bottom, pointing inward */}
      {yearTicks.map((t) => (
        <g key={`xt-${t}`}>
          <line x1={x(t)} x2={x(t)} y1={bottom} y2={bottom - TICK} stroke="#000" strokeWidth={1} />
          <line x1={x(t)} x2={x(t)} y1={top} y2={top + TICK} stroke="#000" strokeWidth={1} />
          <text
            x={x(t)}
            y={bottom + xLabelOffset}
            textAnchor="middle"
            fontFamily={FONT}
            fontSize={11}
            fill="#000"
          >
            {t}
          </text>
        </g>
      ))}
      {/* y ticks, left and right */}
      {ticks.map((v) => (
        <g key={`yt-${v}`}>
          <line x1={LEFT} x2={LEFT + TICK} y1={y(v)} y2={y(v)} stroke="#000" strokeWidth={1} />
          <line x1={RIGHT} x2={RIGHT - TICK} y1={y(v)} y2={y(v)} stroke="#000" strokeWidth={1} />
          <text
            x={LEFT - 3}
            y={y(v) + 4}
            textAnchor="end"
            fontFamily={FONT}
            fontSize={11}
            fill="#000"
          >
            {v}
          </text>
        </g>
      ))}
      <text x={(LEFT + RIGHT) / 2 - 4} y={titleY} textAnchor="middle" fontFamily={FONT} fontSize={10} fill="#000">
        {title}
      </text>
      <text
        transform={`translate(19, ${labelY}) rotate(-90)`}
        textAnchor="middle"
        fontFamily={FONT}
        fontSize={9}
        fill="#000"
      >
        {yLabel}
      </text>
    </g>
  );
}

export default function App() {
  return (
    <svg
      width={981}
      height={707}
      viewBox="0 0 981 707"
      style={{ position: 'absolute', left: 0, top: 0, background: '#fff' }}
    >
      <rect x={0} y={0} width={981} height={707} fill="#fff" />
      <Panel
        id="flow"
        top={33}
        bottom={312}
        domain={[0, 800]}
        ticks={flowTicks}
        title={topTitle}
        titleY={22}
        labelY={180}
        xLabelOffset={13}
        series={[
          { data: observed, color: legendItems[0].color },
          { data: simulated, color: legendItems[1].color },
        ]}
      />
      <Panel
        id="diff"
        top={417}
        bottom={695}
        domain={[-300, 300]}
        ticks={diffTicks}
        title={bottomTitle}
        titleY={406}
        labelY={563}
        xLabelOffset={10.5}
        series={[{ data: difference, color: legendItems[0].color }]}
      />
      {/* legend */}
      <g>
        <rect x={863} y={38} width={125} height={32} fill="#fff" stroke="#000" strokeWidth={1.2} />
        {legendItems.map((item, i) => (
          <g key={item.label}>
            <line x1={867} x2={889} y1={46 + i * 14} y2={46 + i * 14} stroke={item.color} strokeWidth={1} />
            <text x={895} y={50 + i * 14} fontFamily={FONT} fontSize={10.5} fill="#000">
              {item.label}
            </text>
          </g>
        ))}
      </g>
      {statsLines.map((s, i) => (
        <text key={s} x={867} y={94 + i * 14} fontFamily={FONT} fontSize={10.5} fill="#000">
          {s}
        </text>
      ))}
    </svg>
  );
}
